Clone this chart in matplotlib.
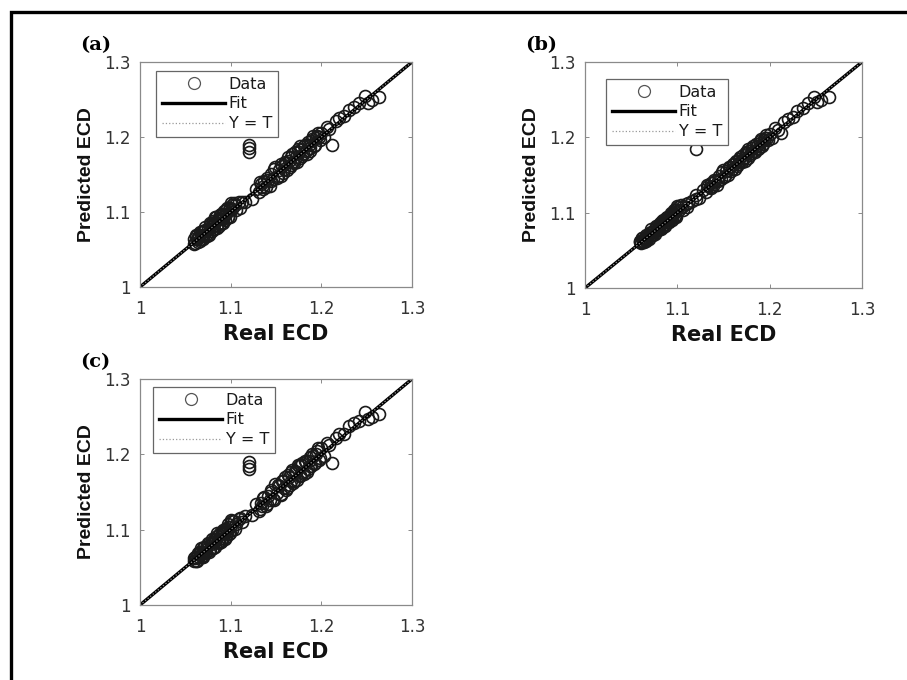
import matplotlib
matplotlib.use("Agg")
import matplotlib.pyplot as plt
from matplotlib.patches import Rectangle

# real ECD (shared by the three models)
real_ecd = [1.060, 1.061, 1.062, 1.063, 1.064, 1.065, 1.066, 1.067, 1.068, 1.069,
            1.070, 1.071, 1.072, 1.073, 1.075, 1.076, 1.078, 1.079, 1.080, 1.081,
            1.082, 1.083, 1.084, 1.085, 1.086, 1.087, 1.088, 1.089, 1.090, 1.091,
            1.092, 1.093, 1.094, 1.095, 1.096, 1.097, 1.098, 1.099, 1.100, 1.102,
            1.104, 1.106, 1.109, 1.112, 1.116, 1.120, 1.120, 1.120, 1.124, 1.128,
            1.131, 1.133, 1.135, 1.137, 1.139, 1.141, 1.143, 1.145, 1.147, 1.149,
            1.151, 1.153, 1.155, 1.157, 1.159, 1.160, 1.162, 1.164, 1.166, 1.168,
            1.170, 1.172, 1.174, 1.176, 1.178, 1.180, 1.182, 1.184, 1.186, 1.188,
            1.190, 1.192, 1.194, 1.196, 1.198, 1.200, 1.203, 1.206, 1.209, 1.212,
            1.216, 1.220, 1.225, 1.230, 1.236, 1.242, 1.248, 1.251, 1.256, 1.264,
            1.060, 1.062, 1.064, 1.066, 1.068, 1.070, 1.072, 1.074, 1.077, 1.079,
            1.081, 1.083, 1.085, 1.087, 1.089, 1.091, 1.093, 1.095, 1.097, 1.099,
            1.101, 1.105, 1.110, 1.132, 1.136, 1.140, 1.144, 1.148, 1.152, 1.156,
            1.158, 1.161, 1.163, 1.165, 1.167, 1.169, 1.171, 1.173, 1.175, 1.177,
            1.179, 1.181, 1.183, 1.185, 1.187, 1.189, 1.191, 1.193, 1.195, 1.197]

pred_a = [1.064, 1.059, 1.068, 1.064, 1.060, 1.068, 1.073, 1.064, 1.070, 1.064,
          1.075, 1.070, 1.080, 1.069, 1.078, 1.070, 1.084, 1.080, 1.077, 1.088,
          1.077, 1.087, 1.093, 1.083, 1.091, 1.081, 1.096, 1.091, 1.086, 1.097,
          1.091, 1.102, 1.089, 1.098, 1.106, 1.094, 1.103, 1.093, 1.112, 1.104,
          1.112, 1.103, 1.113, 1.113, 1.114, 1.180, 1.185, 1.190, 1.118, 1.131,
          1.127, 1.138, 1.133, 1.141, 1.133, 1.143, 1.135, 1.151, 1.144, 1.160,
          1.146, 1.156, 1.148, 1.162, 1.157, 1.167, 1.156, 1.168, 1.163, 1.177,
          1.165, 1.174, 1.184, 1.172, 1.184, 1.178, 1.190, 1.178, 1.189, 1.185,
          1.197, 1.188, 1.199, 1.206, 1.196, 1.206, 1.200, 1.214, 1.211, 1.189,
          1.221, 1.226, 1.228, 1.236, 1.240, 1.245, 1.255, 1.246, 1.250, 1.253,
          1.057, 1.069, 1.066, 1.061, 1.073, 1.068, 1.076, 1.068, 1.085, 1.075,
          1.084, 1.093, 1.079, 1.091, 1.098, 1.086, 1.095, 1.103, 1.093, 1.105,
          1.110, 1.109, 1.106, 1.140, 1.131, 1.146, 1.141, 1.157, 1.148, 1.164,
          1.152, 1.165, 1.173, 1.160, 1.173, 1.167, 1.180, 1.167, 1.180, 1.188,
          1.175, 1.188, 1.181, 1.194, 1.182, 1.195, 1.202, 1.190, 1.201, 1.200]

pred_b = [1.062, 1.060, 1.066, 1.063, 1.061, 1.067, 1.071, 1.065, 1.069, 1.065,
          1.073, 1.070, 1.078, 1.070, 1.077, 1.072, 1.082, 1.080, 1.078, 1.086,
          1.078, 1.086, 1.090, 1.084, 1.089, 1.082, 1.093, 1.090, 1.087, 1.095,
          1.091, 1.099, 1.090, 1.097, 1.103, 1.095, 1.101, 1.094, 1.109, 1.103,
          1.110, 1.104, 1.112, 1.113, 1.115, 1.118, 1.123, 1.185, 1.120, 1.130,
          1.128, 1.136, 1.134, 1.140, 1.135, 1.142, 1.137, 1.149, 1.145, 1.156,
          1.147, 1.155, 1.150, 1.160, 1.158, 1.165, 1.158, 1.167, 1.164, 1.174,
          1.167, 1.173, 1.181, 1.173, 1.182, 1.179, 1.188, 1.180, 1.188, 1.186,
          1.195, 1.189, 1.197, 1.203, 1.197, 1.204, 1.199, 1.212, 1.210, 1.206,
          1.220, 1.225, 1.227, 1.235, 1.239, 1.246, 1.254, 1.247, 1.250, 1.253,
          1.061, 1.066, 1.065, 1.063, 1.071, 1.069, 1.075, 1.070, 1.082, 1.077,
          1.083, 1.089, 1.081, 1.090, 1.094, 1.088, 1.094, 1.100, 1.095, 1.103,
          1.107, 1.108, 1.108, 1.137, 1.133, 1.144, 1.142, 1.154, 1.149, 1.161,
          1.155, 1.164, 1.169, 1.162, 1.171, 1.168, 1.177, 1.169, 1.179, 1.184,
          1.177, 1.186, 1.182, 1.191, 1.184, 1.193, 1.198, 1.191, 1.199, 1.199]

pred_c = [1.058, 1.064, 1.063, 1.059, 1.069, 1.064, 1.070, 1.075, 1.065, 1.071,
          1.064, 1.077, 1.073, 1.071, 1.082, 1.071, 1.081, 1.088, 1.076, 1.083,
          1.088, 1.077, 1.088, 1.095, 1.083, 1.088, 1.095, 1.084, 1.095, 1.089,
          1.100, 1.096, 1.088, 1.101, 1.097, 1.108, 1.094, 1.103, 1.113, 1.100,
          1.111, 1.108, 1.114, 1.110, 1.118, 1.180, 1.185, 1.190, 1.120, 1.134,
          1.125, 1.136, 1.132, 1.143, 1.131, 1.145, 1.139, 1.153, 1.141, 1.161,
          1.149, 1.158, 1.146, 1.164, 1.155, 1.170, 1.155, 1.170, 1.164, 1.179,
          1.164, 1.176, 1.186, 1.171, 1.186, 1.177, 1.191, 1.177, 1.191, 1.184,
          1.200, 1.187, 1.201, 1.208, 1.195, 1.208, 1.198, 1.215, 1.212, 1.189,
          1.222, 1.227, 1.227, 1.237, 1.241, 1.244, 1.256, 1.247, 1.250, 1.253,
          1.063, 1.059, 1.068, 1.070, 1.064, 1.075, 1.069, 1.079, 1.073, 1.084,
          1.076, 1.086, 1.092, 1.082, 1.085, 1.097, 1.100, 1.090, 1.104, 1.095,
          1.112, 1.101, 1.116, 1.128, 1.142, 1.134, 1.150, 1.139, 1.159, 1.147,
          1.165, 1.152, 1.172, 1.159, 1.176, 1.162, 1.178, 1.166, 1.184, 1.172,
          1.188, 1.174, 1.190, 1.181, 1.196, 1.184, 1.198, 1.189, 1.204, 1.193]

fit_ends = [1.0, 1.3]
ticks = [1.0, 1.1, 1.2, 1.3]
tick_labels = ["1", "1.1", "1.2", "1.3"]
panels = ["(a)", "(b)", "(c)"]

W, H = 907, 680
fig = plt.figure(figsize=(W / 100, H / 100), dpi=100)

# axes boxes in pixels: left, top, right, bottom
boxes = [(140, 62, 412, 287), (585, 62, 862, 288), (140, 379, 412, 605)]
legend_off = [(16, 9), (21, 17), (13, 8)]
preds = [pred_a, pred_b, pred_c]

for i, (l, t, r, b) in enumerate(boxes):
    ax = fig.add_axes([l / W, 1 - b / H, (r - l) / W, (b - t) / H])
    ax.plot(real_ecd, preds[i], linestyle="none", marker="o", ms=8.6,
            mfc="none", mec="#1a1a1a", mew=1.2, label="Data")
    ax.plot(fit_ends, fit_ends, color="black", lw=2.4, label="Fit")
    ax.plot(fit_ends, fit_ends, color="#999999", lw=0.9, ls=":", label="Y = T")
    ax.set_xlim(1.0, 1.3)
    ax.set_ylim(1.0, 1.3)
    ax.set_xticks(ticks)
    ax.set_yticks(ticks)
    ax.set_xticklabels(tick_labels)
    ax.set_yticklabels(tick_labels)
    ax.tick_params(direction="in", length=3, width=0.6, color="#777777",
                   labelcolor="#333333", labelsize=12, top=True, right=True)
    ax.tick_params(axis="x", pad=9)
    ax.tick_params(axis="y", pad=7)
    for s in ax.spines.values():
        s.set_color("#8a8a8a")
        s.set_linewidth(0.9)
    ax.set_xlabel("Real ECD", fontsize=15, fontweight="bold", labelpad=5,
                  color="#111111")
    ax.set_ylabel("Predicted ECD", fontsize=14, fontweight="bold", labelpad=6,
                  color="#111111", family="Liberation Sans")
    ox, oy = legend_off[i]
    leg = ax.legend(loc="upper left",
                    bbox_to_anchor=(ox / (r - l), 1 - oy / (b - t)),
                    borderaxespad=0, fontsize=11.5, handlelength=4.0,
                    handletextpad=0.2, borderpad=0.35, labelspacing=0.3,
                    numpoints=1, fancybox=False, framealpha=1,
                    edgecolor="#666666")
    leg.get_frame().set_linewidth(0.9)
    leg.get_lines()[0].set_markeredgecolor("#555555")
    leg.get_lines()[0].set_markeredgewidth(0.9)
    for txt in leg.get_texts():
        txt.set_color("#1a1a1a")
    fig.text((l - 60) / W, 1 - (t - 17) / H, panels[i], fontsize=14,
             fontweight="bold", family="DejaVu Serif", ha="left", va="center")

# outer frame (cut off at right and bottom)
fig.add_artist(Rectangle((11 / W, -0.1), 1.2, 1.1 - 12.5 / H,
                         transform=fig.transFigure, fill=False,
                         lw=2.4, ec="black", clip_on=False))

fig.savefig("out.png", dpi=100)
